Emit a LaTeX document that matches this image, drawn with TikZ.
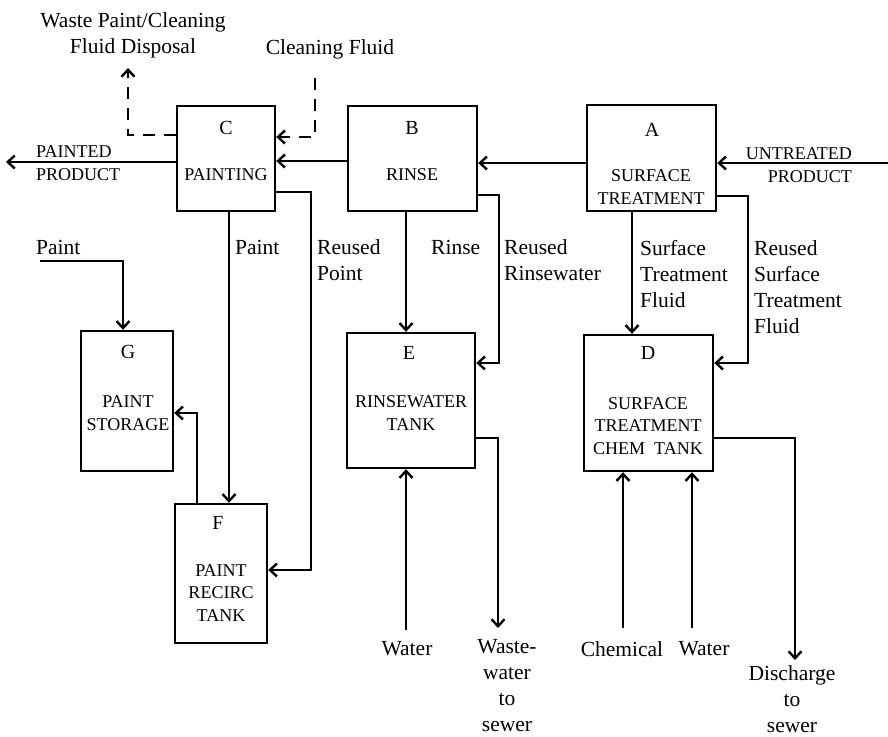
\documentclass[tikz,border=0pt]{standalone}
\usepackage{fontspec}
\setmainfont{Liberation Serif}
\usetikzlibrary{arrows.meta}

\begin{document}
\begin{tikzpicture}[x=1pt, y=-1pt, >={Straight Barb[length=7pt,width=13pt]}, line width=2.4pt]
      % Styles
      \tikzstyle{block} = [rectangle, draw=black, inner sep=0pt]
      \tikzstyle{boxtext} = [font=\fontsize{18}{22.5}\selectfont, align=center, inner sep=0pt]
      \tikzstyle{boxid} = [font=\fontsize{20}{24}\selectfont, inner sep=0pt]
      \tikzstyle{flowtext} = [font=\fontsize{21.5}{26}\selectfont, align=left, inner sep=0pt]
      \tikzstyle{dashline} = [dash pattern=on 12pt off 9pt]
      \useasboundingbox (0,0) rectangle (888,736);

      % Boxes
      \node[block, minimum width=98, minimum height=105] (C) at (226,158.5) {};
      \node[block, minimum width=129, minimum height=105] (B) at (412.5,158.5) {};
      \node[block, minimum width=129, minimum height=106] (A) at (651.5,158) {};
      \node[block, minimum width=92, minimum height=140] (G) at (127,401) {};
      \node[block, minimum width=92, minimum height=139] (F) at (221,573.5) {};
      \node[block, minimum width=128, minimum height=135] (E) at (411,400.5) {};
      \node[block, minimum width=129, minimum height=136] (D) at (648.5,403) {};

      % Box texts
      \node[boxid] (Cid) at (226,128) {C};
      \node[boxtext] (Cname) at (226,175) {PAINTING};
      \node[boxid] (Bid) at (412,128) {B};
      \node[boxtext] (Bname) at (412,175) {RINSE};
      \node[boxid] (Aid) at (652,130) {A};
      \node[boxtext] (Aname) at (651,187) {SURFACE\\TREATMENT};
      \node[boxid] (Gid) at (128,352) {G};
      \node[boxtext] (Gname) at (128,413) {PAINT\\STORAGE};
      \node[boxid] (Fid) at (218,523) {F};
      \node[boxtext] (Fname) at (221,593) {PAINT\\RECIRC\\TANK};
      \node[boxid] (Eid) at (409,353) {E};
      \node[boxtext] (Ename) at (411,413) {RINSEWATER\\TANK};
      \node[boxid] (Did) at (648,353) {D};
      \node[boxtext] (Dname) at (648,426) {SURFACE\\TREATMENT\\CHEM~~TANK};

      % Flow labels
      \node[flowtext, align=center] (wasteLbl) at (133,35) {Waste Paint/Cleaning\\Fluid Disposal};
      \node[flowtext] (cleanLbl) at (330,49) {Cleaning Fluid};
      \node[boxtext, align=left, anchor=west] (paintedLbl) at (35,163) {PAINTED\\PRODUCT};
      \node[boxtext, align=right, anchor=east] (untreatLbl) at (853,165) {UNTREATED\\PRODUCT};
      \node[flowtext, anchor=west] (paintInLbl) at (35,247) {Paint};
      \node[flowtext, anchor=west] (paintLbl) at (234,247) {Paint};
      \node[flowtext, anchor=west] (reusedPaintLbl) at (316,260) {Reused\\Point};
      \node[flowtext, anchor=west] (rinseLbl) at (430,247) {Rinse};
      \node[flowtext, anchor=west] (reusedRinseLbl) at (503,260) {Reused\\Rinsewater};
      \node[flowtext, anchor=west] (stfLbl) at (639,274) {Surface\\Treatment\\Fluid};
      \node[flowtext, anchor=west] (reusedStfLbl) at (753,287) {Reused\\Surface\\Treatment\\Fluid};
      \node[flowtext] (waterELbl) at (407,649) {Water};
      \node[flowtext, align=center] (wasteWLbl) at (507,686) {Waste-\\water\\to\\sewer};
      \node[flowtext] (chemLbl) at (622,649) {Chemical};
      \node[flowtext] (waterDLbl) at (704,649) {Water};
      \node[flowtext, align=center] (dischargeLbl) at (792,699) {Discharge\\to\\sewer};

      % Free ends
      \coordinate (untreatIn) at (888,163);
      \coordinate (paintedOut) at (6,162);
      \coordinate (wasteTip) at (128,68);
      \coordinate (cleanIn) at (315,78);
      \coordinate (paintIn) at (40,261);
      \coordinate (waterEIn) at (406,630);
      \coordinate (sewerETip) at (498,628);
      \coordinate (chemIn) at (623,628);
      \coordinate (waterDIn) at (692,628);
      \coordinate (sewerDTip) at (795,660);

      % Arrows
      \draw[->] (untreatIn) -- (A.east |- untreatIn);
      \draw[->] (A.west |- 0,163) -- (B.east |- 0,163);
      \draw[->] (B.west |- 0,161) -- (C.east |- 0,161);
      \draw[->] (C.west |- paintedOut) -- (paintedOut);
      \draw[->, dashline] (C.west |- 0,135) -| (wasteTip);
      \draw[->, dashline] (cleanIn) |- (C.east |- 0,137);
      \draw[->] (C.south -| 229,0) -- (F.north -| 229,0);
      \draw[->] (C.east |- 0,192) -| (311,570) -- (F.east |- 0,570);
      \draw[->] (B.south -| 406,0) -- (E.north -| 406,0);
      \draw[->] (B.east |- 0,195) -| (499,363) -- (E.east |- 0,363);
      \draw[->] (A.south -| 632,0) -- (D.north -| 632,0);
      \draw[->] (A.east |- 0,196) -| (748,363) -- (D.east |- 0,363);
      \draw[->] (paintIn) -| (G.north -| 123,0);
      \draw[->] (F.north -| 197,0) |- (G.east |- 0,413);
      \draw[->] (waterEIn) -- (E.south -| waterEIn);
      \draw[->] (E.east |- 0,438) -| (sewerETip);
      \draw[->] (chemIn) -- (D.south -| chemIn);
      \draw[->] (waterDIn) -- (D.south -| waterDIn);
      \draw[->] (D.east |- 0,438) -| (sewerDTip);
\end{tikzpicture}
\end{document}
